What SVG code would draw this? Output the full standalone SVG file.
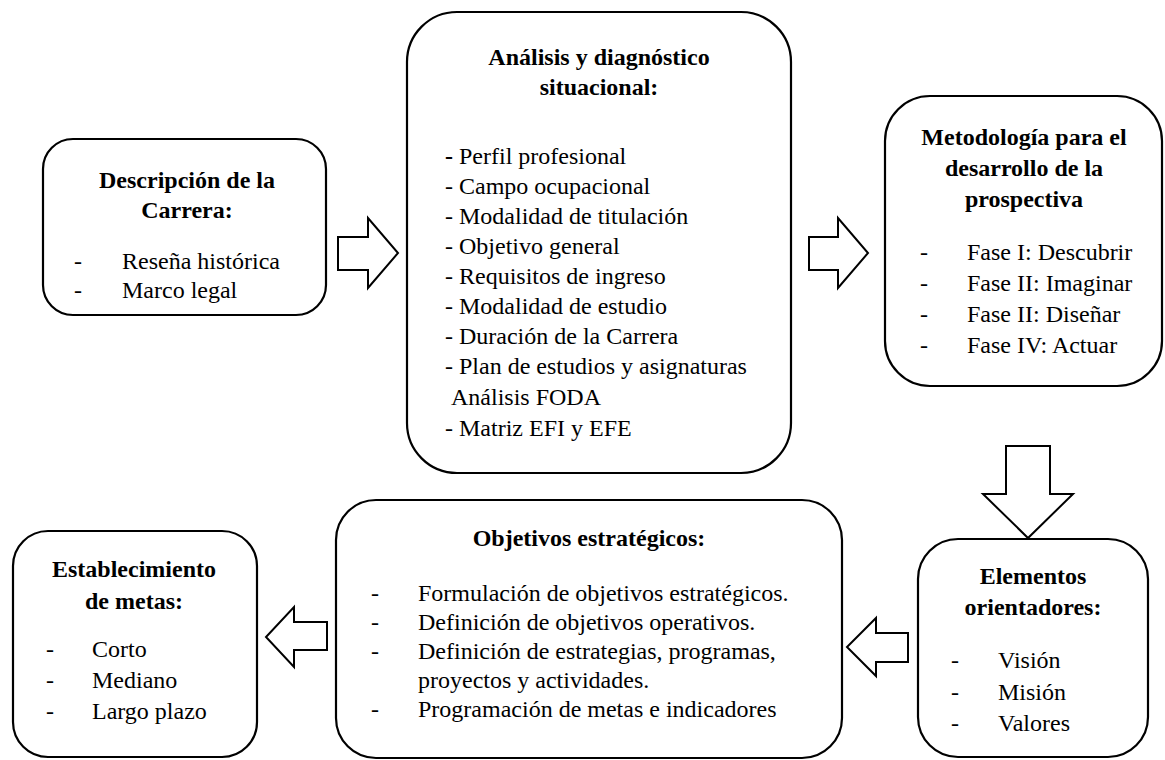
<svg xmlns="http://www.w3.org/2000/svg" width="1165" height="760" viewBox="0 0 1165 760">
<style>
.box{fill:#fff;stroke:#000;stroke-width:2.2}
.arr{fill:#fff;stroke:#000;stroke-width:2}
text{font-family:"Liberation Serif","Times New Roman",serif;font-size:24px;fill:#000}
.t{font-weight:bold;text-anchor:middle}
</style>
<rect width="1165" height="760" fill="#fff"/>
<g id="connectors">
<polygon class="arr" points="338,237 368,237 368,218 398,253 368,288 368,270 338,270"/>
<polygon class="arr" points="809,237 838,237 838,218 868,253 838,288 838,270 809,270"/>
<polygon class="arr" points="1006,446 1050,446 1050,494 1073,494 1028,538 983,494 1006,494"/>
<polygon class="arr" points="908,633 876,633 876,618 847,647 876,676 876,662 908,662"/>
<polygon class="arr" points="327,622 294,622 294,607 266,637 294,667 294,650 327,650"/>
</g>
<g id="descripcion">
<rect class="box" x="43" y="139" width="283" height="176" rx="30"/>
<text class="t" x="187" y="188">Descripción de la</text>
<text class="t" x="187" y="218">Carrera:</text>
<text x="74" y="269">-</text><text x="122" y="269">Reseña histórica</text>
<text x="74" y="298">-</text><text x="122" y="298">Marco legal</text>
</g>
<g id="analisis">
<rect class="box" x="407" y="12" width="384" height="461" rx="50"/>
<text class="t" x="599" y="65">Análisis y diagnóstico</text>
<text class="t" x="599" y="95">situacional:</text>
<text x="445" y="164"><tspan font-weight="bold">-</tspan> Perfil profesional</text>
<text x="445" y="194">- Campo ocupacional</text>
<text x="445" y="224">- Modalidad de titulación</text>
<text x="445" y="254">- Objetivo general</text>
<text x="445" y="284">- Requisitos de ingreso</text>
<text x="445" y="314">- Modalidad de estudio</text>
<text x="445" y="344">- Duración de la Carrera</text>
<text x="445" y="374">- Plan de estudios y asignaturas</text>
<text x="451" y="405">Análisis FODA</text>
<text x="445" y="436">- Matriz EFI y EFE</text>
</g>
<g id="metodologia">
<rect class="box" x="885" y="96" width="277" height="290" rx="45"/>
<text class="t" x="1024" y="145">Metodología para el</text>
<text class="t" x="1024" y="176">desarrollo de la</text>
<text class="t" x="1024" y="207">prospectiva</text>
<text x="920" y="260">-</text><text x="967" y="260">Fase I: Descubrir</text>
<text x="920" y="291">-</text><text x="967" y="291">Fase II: Imaginar</text>
<text x="920" y="322">-</text><text x="967" y="322">Fase II: Diseñar</text>
<text x="920" y="353">-</text><text x="967" y="353">Fase IV: Actuar</text>
</g>
<g id="elementos">
<rect class="box" x="918" y="539" width="230" height="218" rx="40"/>
<text class="t" x="1033" y="584">Elementos</text>
<text class="t" x="1033" y="615">orientadores:</text>
<text x="951" y="668">-</text><text x="998" y="668">Visión</text>
<text x="951" y="700">-</text><text x="998" y="700">Misión</text>
<text x="951" y="731">-</text><text x="998" y="731">Valores</text>
</g>
<g id="objetivos">
<rect class="box" x="336" y="500" width="506" height="258" rx="40"/>
<text class="t" x="589" y="546">Objetivos estratégicos:</text>
<text x="371" y="601">-</text><text x="418" y="601">Formulación de objetivos estratégicos.</text>
<text x="371" y="630">-</text><text x="418" y="630">Definición de objetivos operativos.</text>
<text x="371" y="659">-</text><text x="418" y="659">Definición de estrategias, programas,</text>
<text x="418" y="688">proyectos y actividades.</text>
<text x="371" y="717">-</text><text x="418" y="717">Programación de metas e indicadores</text>
</g>
<g id="metas">
<rect class="box" x="13" y="531" width="244" height="226" rx="35"/>
<text class="t" x="134" y="577">Establecimiento</text>
<text class="t" x="134" y="609">de metas:</text>
<text x="46" y="657">-</text><text x="92" y="657">Corto</text>
<text x="46" y="688">-</text><text x="92" y="688">Mediano</text>
<text x="46" y="719">-</text><text x="92" y="719">Largo plazo</text>
</g>
</svg>
